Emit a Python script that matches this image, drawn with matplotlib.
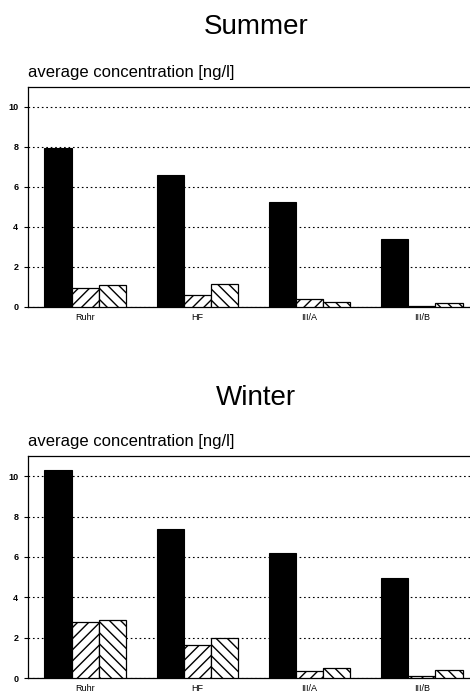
import numpy as np
import matplotlib
matplotlib.use("Agg")
import matplotlib.pyplot as plt

plt.rcParams['font.family'] = ['Liberation Sans', 'DejaVu Sans']
plt.rcParams['hatch.linewidth'] = 1.0

# data
sites = ['Ruhr', 'HF', 'III/A', 'III/B']
summer_a = [7.93, 6.6, 5.27, 3.42]
summer_b = [0.95, 0.61, 0.38, 0.03]
summer_c = [1.09, 1.14, 0.26, 0.18]
winter_a = [10.3, 7.36, 6.17, 4.94]
winter_b = [2.76, 1.63, 0.36, 0.10]
winter_c = [2.86, 2.0, 0.48, 0.40]
yticks = [0, 2, 4, 6, 8, 10]

fig = plt.figure(figsize=(4.7, 6.95), dpi=100)


def panel(rect, title, title_y, a, b, c):
    ax = fig.add_axes(rect)
    x = np.arange(len(sites))
    w = 0.243
    ax.bar(x - w, a, w, color='black', edgecolor='black', linewidth=0.8, zorder=3)
    ax.bar(x, b, w, color='white', edgecolor='black', hatch='///', linewidth=0.9, zorder=3)
    ax.bar(x + w, c, w, color='white', edgecolor='black', hatch='\\\\\\', linewidth=0.9, zorder=3)
    ax.set_xlim(-0.51, 3.47)
    ax.set_ylim(0, 11)
    ax.set_yticks(yticks)
    ax.set_yticklabels([str(t) for t in yticks], fontsize=6.5, fontweight='bold')
    ax.set_xticks(x)
    ax.set_xticklabels(sites, fontsize=6.5)
    ax.tick_params(axis='x', length=0, pad=4)
    ax.tick_params(axis='y', length=3, width=0.8, pad=4)
    ax.yaxis.grid(True, linestyle=(0, (1.5, 2.5)), color='black', linewidth=0.8, zorder=0)
    ax.spines['right'].set_visible(False)
    for s in ['left', 'top', 'bottom']:
        ax.spines[s].set_linewidth(0.9)
    ax.text(0.0, 1.03, 'average concentration [ng/l]', transform=ax.transAxes,
            fontsize=12, ha='left', va='bottom')
    fig.text(0.545, title_y, title, fontsize=20, ha='center', va='center')
    return ax


panel([28 / 470, (695 - 307) / 695, 0.95, 220 / 695], 'Summer', 1 - 27 / 695,
      summer_a, summer_b, summer_c)
panel([28 / 470, (695 - 678) / 695, 0.95, 222 / 695], 'Winter', 1 - 398 / 695,
      winter_a, winter_b, winter_c)

fig.savefig('out.png', dpi=100)
